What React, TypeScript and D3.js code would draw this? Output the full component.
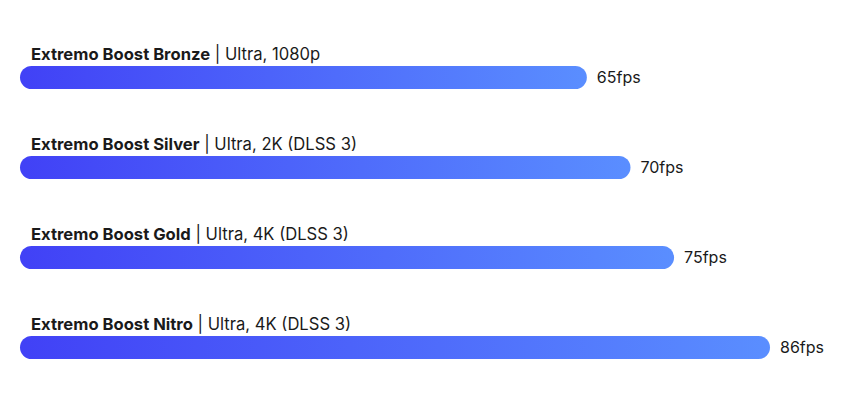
import React from "react";
import * as d3 from "d3";

const tiers = ["Extremo Boost Bronze", "Extremo Boost Silver", "Extremo Boost Gold", "Extremo Boost Nitro"];
const settings = ["Ultra, 1080p", "Ultra, 2K (DLSS 3)", "Ultra, 4K (DLSS 3)", "Ultra, 4K (DLSS 3)"];
const fps = [65, 70, 75, 86];

export default function App() {
  const W = 850, H = 400;
  const x = d3.scaleLinear().domain([0, 86]).range([20, 770]);
  const y = d3.scaleBand<number>().domain(d3.range(fps.length)).range([21, 381]);
  const barH = 23;
  const font = "Inter, 'Noto Sans', sans-serif";
  return (
    <svg width={W} height={H} style={{ position: "absolute", left: 0, top: 0, background: "#fff" }}>
      <defs>
        <linearGradient id="g" x1="0" x2="1" y1="0" y2="0">
          <stop offset="0%" stopColor="#4141F6" />
          <stop offset="100%" stopColor="#5A8EFF" />
        </linearGradient>
      </defs>
      {fps.map((v, i) => {
        const top = (y(i) as number) + 45;
        return (
          <g key={i}>
            <text x={31} y={top - 6} fontFamily={font} fontSize={16.6} fill="#1a1a1a">
              <tspan fontWeight={700}>{tiers[i]}</tspan>
              <tspan> | {settings[i]}</tspan>
            </text>
            <rect x={x(0)} y={top} width={x(v) - x(0)} height={barH} rx={barH / 2} fill="url(#g)" />
            <text x={x(v) + 10} y={top + 17} fontFamily={font} fontSize={16} fill="#1a1a1a">
              {v}fps
            </text>
          </g>
        );
      })}
    </svg>
  );
}
